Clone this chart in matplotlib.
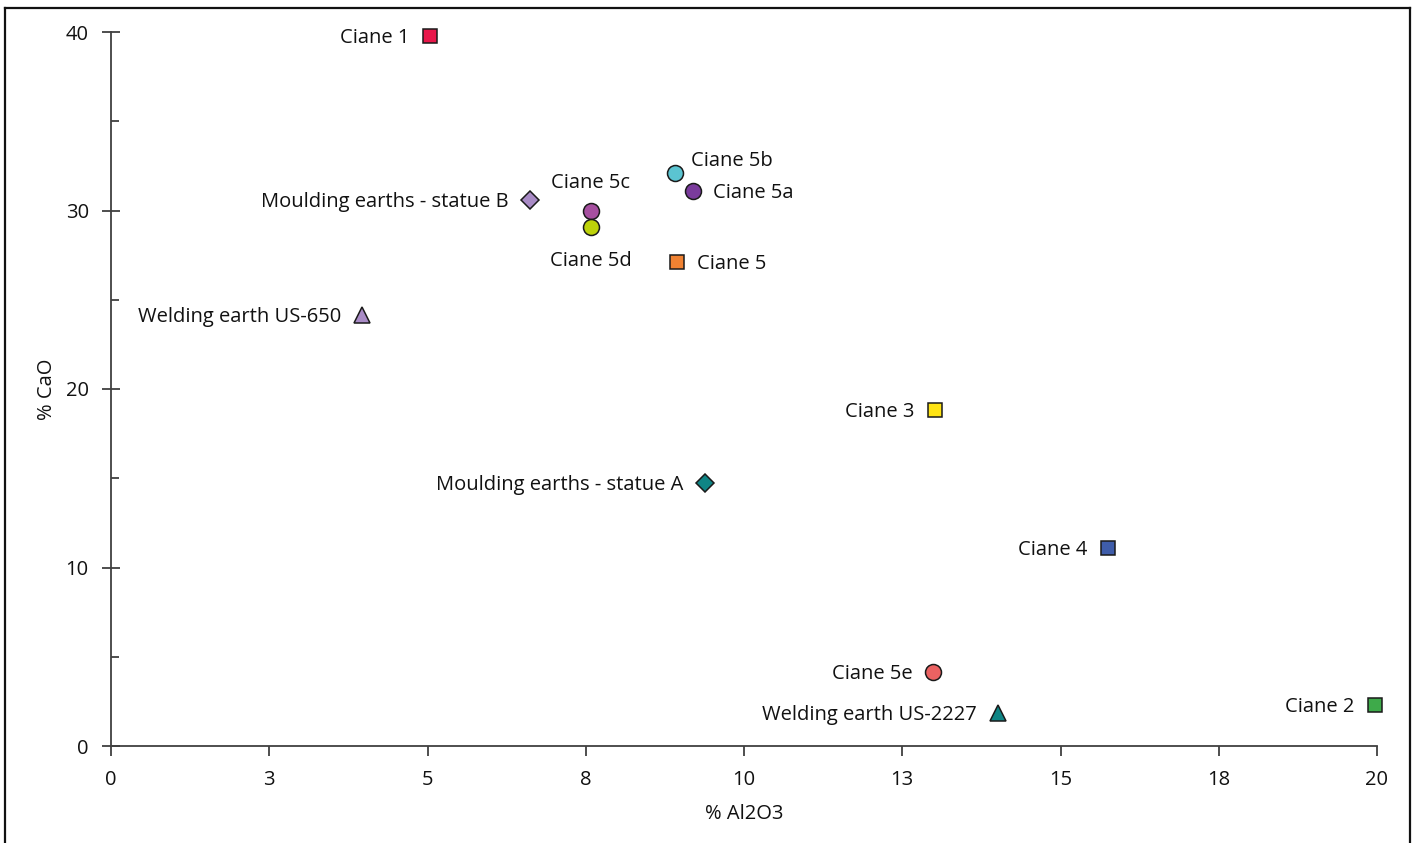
import matplotlib
matplotlib.use("Agg")
import matplotlib.pyplot as plt
from matplotlib.lines import Line2D
from matplotlib.ticker import FixedLocator, FuncFormatter

plt.rcParams['font.family'] = ['Open Sans', 'DejaVu Sans']

# Sample composition: alumina vs lime content (%)
names = ["Ciane 1", "Ciane 5b", "Ciane 5a", "Ciane 5c", "Ciane 5d",
         "Moulding earths - statue B", "Ciane 5", "Welding earth US-650",
         "Ciane 3", "Moulding earths - statue A", "Ciane 4", "Ciane 5e",
         "Welding earth US-2227", "Ciane 2"]
al2o3 = [5.04, 8.91, 9.19, 7.58, 7.58, 6.62, 8.94, 3.97,
         13.02, 9.38, 15.75, 12.99, 14.01, 19.97]
cao = [39.8, 32.1, 31.1, 29.97, 29.08, 30.6, 27.1, 24.15,
       18.82, 14.73, 11.09, 4.15, 1.85, 2.3]
markers = ["s", "o", "o", "o", "o", "D", "s", "^",
           "s", "D", "s", "o", "^", "s"]
colors = ["#E8174A", "#5BC4D1", "#7A3B9C", "#A64FA0", "#BDD20A",
          "#A98BC6", "#F08232", "#A98BC6", "#FFE414", "#0F8585",
          "#3F5DAA", "#EB6262", "#0F8585", "#3EAA4A"]
# where each label sits relative to its marker
placement = ["left", "upright", "right", "above", "below",
             "left", "right", "left", "left", "left", "left", "left",
             "left", "left"]

x_ticks = [0, 2.5, 5, 7.5, 10, 12.5, 15, 17.5, 20]
y_ticks = [0, 10, 20, 30, 40]
y_minor = [5, 15, 25, 35]

fig = plt.figure(figsize=(14.18, 8.43), dpi=100)
ax = fig.add_axes([111 / 1418, 1 - 746 / 843, (1377 - 111) / 1418, (746 - 32) / 843])

sizes = {"s": 10.5, "o": 11.5, "D": 9.0, "^": 11.5}
for x, y, m, c in zip(al2o3, cao, markers, colors):
    ax.plot([x], [y], linestyle="none", marker=m, markersize=sizes[m],
            markerfacecolor=c, markeredgecolor="#1a1a1a", markeredgewidth=1.1,
            zorder=3, clip_on=False)

offsets = {
    "left": ((-21, -2), "right", "center"),
    "right": ((20, -2), "left", "center"),
    "upright": ((16, 12), "left", "center"),
    "above": ((0, 28), "center", "center"),
    "below": ((0, -34), "center", "center"),
}
for name, x, y, p in zip(names, al2o3, cao, placement):
    (dx, dy), ha, va = offsets[p]
    ax.annotate(name, (x, y), xytext=(dx, dy), textcoords="offset pixels",
                ha=ha, va=va, fontsize=14.5, color="#111111")

ax.set_xlim(0, 20)
ax.set_ylim(0, 40)
ax.xaxis.set_major_locator(FixedLocator(x_ticks))
ax.xaxis.set_major_formatter(FuncFormatter(lambda v, _: f"{int(v + 0.5)}"))
ax.yaxis.set_major_locator(FixedLocator(y_ticks))
ax.yaxis.set_minor_locator(FixedLocator(y_minor))

for side in ("top", "right"):
    ax.spines[side].set_visible(False)
for side in ("left", "bottom"):
    ax.spines[side].set_color("#404040")
    ax.spines[side].set_linewidth(1.3)

ax.tick_params(axis="x", which="major", direction="out", length=7, width=1.3,
               color="#404040", labelsize=14.5, pad=10.5, labelcolor="#111111")
ax.tick_params(axis="y", which="major", direction="inout", length=13, width=1.3,
               color="#404040", labelsize=14.5, pad=9.5, labelcolor="#111111")
ax.tick_params(axis="y", which="minor", direction="in", length=6, width=1.3,
               color="#404040")

ax.set_xlabel("% Al2O3", fontsize=14.5, labelpad=10, color="#111111")
ax.set_ylabel("% CaO", fontsize=14.5, labelpad=6.5, color="#111111")

# outer frame of the chart area (left, top, right edges)
frame_kw = dict(color="#111111", linewidth=1.6, transform=fig.transFigure)
fig.add_artist(Line2D([4.5 / 1418, 4.5 / 1418], [0, 1 - 7.5 / 843], **frame_kw))
fig.add_artist(Line2D([4.5 / 1418, 1410 / 1418], [1 - 7.5 / 843, 1 - 7.5 / 843], **frame_kw))
fig.add_artist(Line2D([1410 / 1418, 1410 / 1418], [0, 1 - 7.5 / 843], **frame_kw))

fig.savefig("out.png", dpi=100)
